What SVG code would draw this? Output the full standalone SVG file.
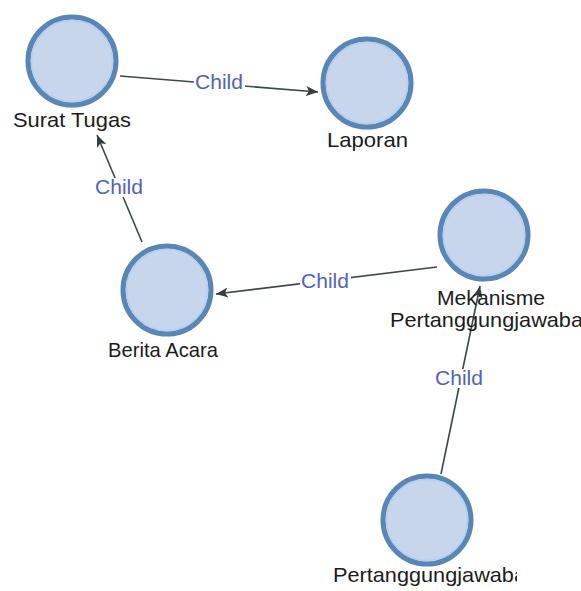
<svg xmlns="http://www.w3.org/2000/svg" width="581" height="591" viewBox="0 0 581 591">
  <style>
    .node-ring { fill: #c7d6ea; stroke: #5a86b6; stroke-width: 5; }
    .node-inner { fill: none; stroke: #b3d0f2; stroke-width: 1.5; }
    .node-label { font-family: "Liberation Sans", Arial, sans-serif; font-size: 21px; fill: #1c1c1c; }
    .edge { stroke: #3b4848; stroke-width: 1.6; fill: none; marker-end: url(#arrow); }
    .edge-bg { fill: #ffffff; }
    .edge-label { font-family: "Liberation Sans", Arial, sans-serif; font-size: 21px; fill: #5163b8; text-anchor: middle; }
  </style>
  <defs>
    <marker id="arrow" viewBox="0 0 12 10" refX="12" refY="5" markerWidth="12" markerHeight="10" markerUnits="userSpaceOnUse" orient="auto">
      <path d="M0,0 L12,5 L0,10 L3,5 Z" fill="#2f3d3d"/>
    </marker>
    <clipPath id="clip-bottom-label">
      <rect x="300" y="560" width="217" height="31"/>
    </clipPath>
  </defs>
  <rect width="581" height="591" fill="#ffffff"/>

  <!-- connectors -->
  <g id="connectors">
    <g id="edge-surat-laporan">
      <line class="edge" x1="120" y1="76" x2="318" y2="92"/>
      <rect class="edge-bg" x="194" y="73" width="51" height="19"/>
      <text class="edge-label" x="219" y="89">Child</text>
    </g>
    <g id="edge-berita-surat">
      <line class="edge" x1="142" y1="242" x2="97" y2="135"/>
      <rect class="edge-bg" x="94" y="178" width="51" height="19"/>
      <text class="edge-label" x="119" y="194">Child</text>
    </g>
    <g id="edge-mekanisme-berita">
      <line class="edge" x1="437" y1="267" x2="216" y2="294"/>
      <rect class="edge-bg" x="300" y="272" width="51" height="19"/>
      <text class="edge-label" x="325" y="288">Child</text>
    </g>
    <g id="edge-pertanggungjawaban-mekanisme">
      <line class="edge" x1="441" y1="474" x2="480" y2="286"/>
      <rect class="edge-bg" x="434" y="369" width="51" height="19"/>
      <text class="edge-label" x="459" y="385">Child</text>
    </g>
  </g>

  <!-- nodes -->
  <g id="node-surat-tugas">
    <circle class="node-ring" cx="72" cy="61" r="44"/>
    <circle class="node-inner" cx="72" cy="61" r="40.5"/>
    <text class="node-label" x="13" y="127" textLength="118" lengthAdjust="spacingAndGlyphs">Surat Tugas</text>
  </g>
  <g id="node-laporan">
    <circle class="node-ring" cx="367" cy="83" r="44"/>
    <circle class="node-inner" cx="367" cy="83" r="40.5"/>
    <text class="node-label" x="327" y="147" textLength="81" lengthAdjust="spacingAndGlyphs">Laporan</text>
  </g>
  <g id="node-berita-acara">
    <circle class="node-ring" cx="167" cy="290" r="44"/>
    <circle class="node-inner" cx="167" cy="290" r="40.5"/>
    <text class="node-label" x="108" y="357" textLength="110" lengthAdjust="spacingAndGlyphs">Berita Acara</text>
  </g>
  <g id="node-mekanisme">
    <circle class="node-ring" cx="484" cy="235" r="44"/>
    <circle class="node-inner" cx="484" cy="235" r="40.5"/>
    <text class="node-label" x="437" y="305" textLength="108" lengthAdjust="spacingAndGlyphs">Mekanisme</text>
    <text class="node-label" x="390" y="327" textLength="193" lengthAdjust="spacingAndGlyphs">Pertanggungjawaba</text>
  </g>
  <g id="node-pertanggungjawaban">
    <circle class="node-ring" cx="427" cy="520" r="44"/>
    <circle class="node-inner" cx="427" cy="520" r="40.5"/>
    <text class="node-label" x="333" y="582" textLength="193" lengthAdjust="spacingAndGlyphs" clip-path="url(#clip-bottom-label)">Pertanggungjawaba</text>
  </g>
</svg>
